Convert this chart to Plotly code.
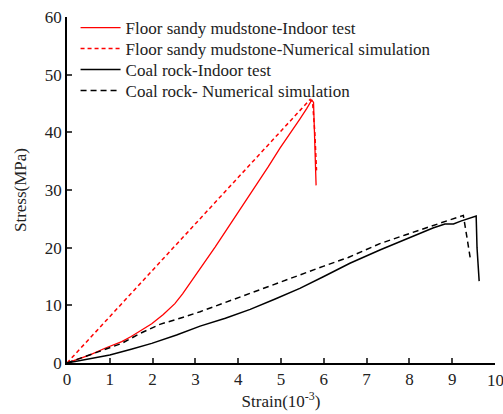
import plotly.graph_objects as go

# Floor sandy mudstone - Indoor test
sand_test_x = [0, 0.25, 0.54, 0.9, 1.28, 1.5, 1.7, 1.98, 2.25, 2.52, 2.7, 2.87, 3.1, 3.3, 3.46, 3.7, 3.95, 4.2, 4.43, 4.7, 4.98, 5.2, 5.44, 5.6, 5.72, 5.76, 5.79, 5.82]
sand_test_y = [0, 0.7, 1.4, 2.6, 3.7, 4.6, 5.5, 6.8, 8.4, 10.3, 12.0, 13.8, 16.2, 18.4, 20.1, 22.8, 25.6, 28.3, 30.8, 34.0, 37.3, 39.8, 42.3, 44.1, 45.6, 45.2, 38.0, 30.8]

# Floor sandy mudstone - Numerical simulation
sand_sim_x = [0, 5.68, 5.74, 5.79, 5.83]
sand_sim_y = [0, 45.7, 45.0, 40.0, 33.4]

# Coal rock - Indoor test
coal_test_x = [0, 0.3, 0.6, 1.0, 1.5, 1.98, 2.56, 3.11, 3.7, 4.28, 4.85, 5.44, 6.0, 6.61, 7.31, 7.8, 8.25, 8.55, 8.83, 9.03, 9.2, 9.38, 9.56, 9.58, 9.63]
coal_test_y = [0, 0.4, 0.8, 1.4, 2.4, 3.4, 4.85, 6.4, 7.75, 9.3, 11.05, 12.95, 15.0, 17.3, 19.6, 21.1, 22.5, 23.4, 24.1, 24.1, 24.6, 25.1, 25.5, 20.0, 14.2]

# Coal rock - Numerical simulation
coal_sim_x = [0, 0.5, 1.0, 1.28, 1.7, 2.17, 2.7, 3.11, 3.7, 4.28, 4.85, 5.44, 6.0, 6.57, 7.31, 7.9, 8.48, 8.9, 9.26, 9.34, 9.43]
coal_sim_y = [0, 1.3, 2.7, 3.4, 5.1, 6.7, 7.9, 8.9, 10.5, 12.1, 13.7, 15.3, 16.8, 18.3, 20.7, 22.2, 23.7, 24.7, 25.6, 22.0, 17.8]

x_ticks = [0, 1, 2, 3, 4, 5, 6, 7, 8, 9, 10]
y_ticks = [0, 10, 20, 30, 40, 50, 60]

FONT = "Liberation Serif, Times New Roman, serif"
TXT = "#222222"

fig = go.Figure()
fig.add_trace(go.Scatter(x=sand_test_x, y=sand_test_y, mode="lines",
                         name="Floor sandy mudstone-Indoor test", legend="legend",
                         line=dict(color="#ff0000", width=1.3)))
fig.add_trace(go.Scatter(x=sand_sim_x, y=sand_sim_y, mode="lines",
                         name="Floor sandy mudstone-Numerical simulation", legend="legend2",
                         line=dict(color="#ff0000", width=1.5, dash="4px,3px")))
fig.add_trace(go.Scatter(x=coal_test_x, y=coal_test_y, mode="lines",
                         name="Coal rock-Indoor test", legend="legend3",
                         line=dict(color="#000000", width=1.5)))
fig.add_trace(go.Scatter(x=coal_sim_x, y=coal_sim_y, mode="lines",
                         name="Coal rock- Numerical simulation", legend="legend4",
                         line=dict(color="#000000", width=1.5, dash="6px,4px")))

def leg(yc):
    return dict(x=0.02, y=yc, xanchor="left", yanchor="middle",
                bgcolor="rgba(0,0,0,0)", font=dict(family=FONT, size=17, color=TXT),
                itemwidth=40)

# the last x tick label sits on the page edge, so it is written as an annotation
# placed through the x axis scale (Plotly hides edge labels that overflow)
last_x = x_ticks[-1]
fig.add_annotation(x=last_x, xref="x", y=0, yref="paper", yanchor="middle", yshift=-17,
                   text=str(last_x), showarrow=False,
                   font=dict(family=FONT, size=17, color=TXT))

fig.update_layout(
    width=503, height=414,
    margin=dict(l=67, r=8, t=17, b=51, autoexpand=False),
    paper_bgcolor="white", plot_bgcolor="white",
    font=dict(family=FONT, size=17, color=TXT),
    showlegend=True,
    legend=leg(0.968),
    legend2=leg(0.9075),
    legend3=leg(0.8468),
    legend4=leg(0.786),
    xaxis=dict(range=[0, 10], tickvals=x_ticks[:-1], ticks="inside", ticklen=5, tickwidth=1.5,
               showline=True, linecolor="black", linewidth=1.5, showgrid=False, zeroline=False,
               ticklabeloverflow="allow", automargin=False,
               tickfont=dict(family=FONT, size=17, color=TXT),
               title=dict(text="Strain(10<sup>-3</sup>)", font=dict(family=FONT, size=17, color=TXT), standoff=6)),
    yaxis=dict(range=[0, 60], tickvals=y_ticks, ticks="inside", ticklen=5, tickwidth=1.5,
               showline=True, linecolor="black", linewidth=1.5, showgrid=False, zeroline=False,
               ticklabeloverflow="allow", automargin=False,
               tickfont=dict(family=FONT, size=17, color=TXT),
               title=dict(text="Stress(MPa)", font=dict(family=FONT, size=17, color=TXT), standoff=14)),
)

fig.write_html("out.html")
